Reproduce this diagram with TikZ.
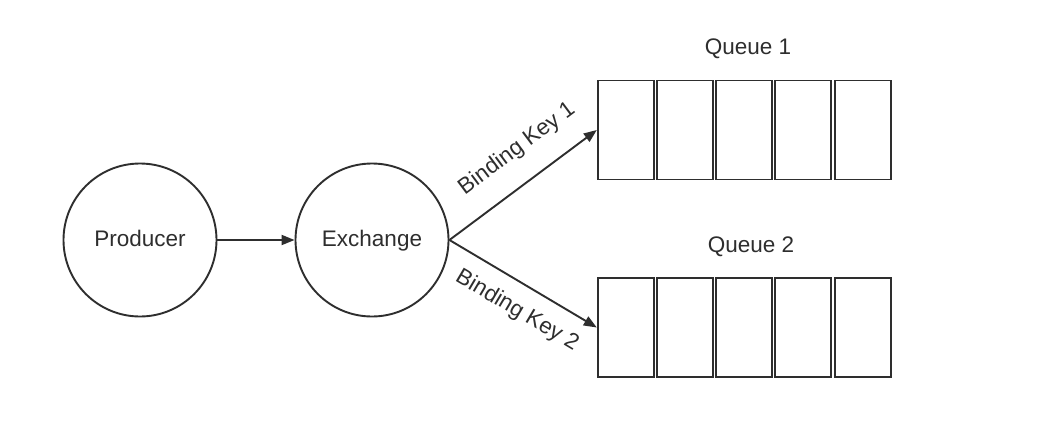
\documentclass[tikz,border=0pt]{standalone}
\usepackage{fontspec}
\setmainfont{Liberation Sans}
\usetikzlibrary{arrows.meta}
\definecolor{ink}{HTML}{2E2E2E}
\begin{document}
\begin{tikzpicture}[x=1pt,y=-1pt,
  every node/.style={font=\fontsize{22.5}{26}\selectfont, text=ink},
  ball/.style={draw=ink, line width=1.9pt, circle, minimum size=153pt, inner sep=0pt, text height=16pt, text depth=4pt},
  cell/.style={draw=ink, line width=1.9pt, rectangle, minimum width=56pt, minimum height=99pt, inner sep=0pt},
  arr/.style={draw=ink, line width=1.9pt, -{Triangle[length=13pt,width=10pt]}},
  lab/.style={inner sep=0pt, sloped}]
\fill[white] (0,0) rectangle (1056,434);
\useasboundingbox (0,0) rectangle (1056,434);
\node[ball] (prod) at (140,240) {Producer};
\node[ball] (ex) at (372,240) {Exchange};
\foreach \i in {1,...,5}{
  \node[cell] (qa\i) at ({597+28.75+(\i-1)*59.2},130) {};
  \node[cell] (qb\i) at ({597+28.75+(\i-1)*59.2},327.5) {};
}
\node (q1) at (748,49) {Queue 1};
\node (q2) at (751,247) {Queue 2};
\draw[arr] (prod.east) -- (ex.west);
\draw[arr] (ex.east) -- node[lab, pos=0.59, above=21pt] {Binding Key 1} (qa1.west);
\draw[arr] (ex.east) -- node[lab, pos=0.55, below=15pt] {Binding Key 2} (qb1.west);
\end{tikzpicture}
\end{document}
